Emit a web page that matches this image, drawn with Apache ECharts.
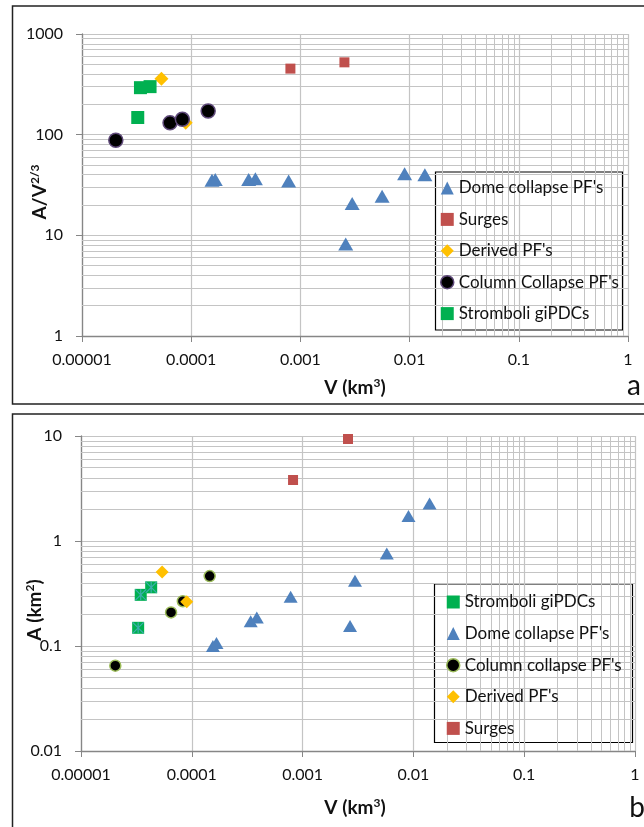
<!DOCTYPE html>
<html>
<head>
<meta charset="utf-8">
<script src="https://cdn.jsdelivr.net/npm/echarts@6/dist/echarts.min.js"></script>
<style>
  html, body { margin: 0; padding: 0; background: #fff; }
  #chart { width: 644px; height: 827px; }
</style>
</head>
<body>
<div id="chart"></div>
<script>
// panel a: A/V^(2/3) against V (km3)
var domeA = [[1.55e-4, 35.3], [1.66e-4, 35.9], [3.36e-4, 35.9], [3.87e-4, 36.4], [7.8e-4, 34.7],
  [2.6e-3, 8.2], [2.98e-3, 20.7], [5.6e-3, 24.5], [9.0e-3, 41], [1.38e-2, 40]];
var surgesA = [[8.1e-4, 453], [2.53e-3, 523]];
var derivedA = [[5.34e-5, 360], [8.9e-5, 131]];
var columnA = [[2.04e-5, 88], [6.4e-5, 131], [8.3e-5, 142], [1.43e-4, 172]];
var stromboliA = [[3.24e-5, 148], [3.43e-5, 293], [4.2e-5, 300]];

// panel b: A (km2) against V (km3)
var stromboliB = [[3.28e-5, 0.149], [3.46e-5, 0.307], [4.3e-5, 0.362]];
var domeB = [[1.55e-4, 0.100], [1.67e-4, 0.107], [3.4e-4, 0.172], [3.86e-4, 0.187], [7.8e-4, 0.294],
  [2.68e-3, 0.155], [2.97e-3, 0.418], [5.75e-3, 0.762], [9.03e-3, 1.73], [1.40e-2, 2.28]];
var columnB = [[2.04e-5, 0.065], [6.5e-5, 0.209], [8.3e-5, 0.267], [1.45e-4, 0.463]];
var derivedB = [[5.4e-5, 0.508], [9.0e-5, 0.264]];
var surgesB = [[8.2e-4, 3.81], [2.57e-3, 9.36]];

// axis ranges (powers of ten)
var xRange = [1e-5, 1];
var yRangeA = [1, 1000];
var yRangeB = [0.01, 10];

var legendA = ["Dome collapse PF's", 'Surges', "Derived PF's", "Column Collapse PF's", 'Stromboli giPDCs'];
var legendB = ['Stromboli giPDCs', "Dome collapse PF's", "Column collapse PF's", "Derived PF's", 'Surges'];

var FONT = 'Lato, "Open Sans", sans-serif';
var GRID = '#c4c4c4';

var chart = echarts.init(document.getElementById('chart'));

function logLabel(v) {
  var d = Math.round(Math.log10(v));
  return d < 0 ? Math.pow(10, d).toFixed(-d) : String(Math.round(Math.pow(10, d)));
}

// 2..9 x 10^n values for the minor grid
function minorVals(range) {
  var out = [];
  var lo = Math.round(Math.log10(range[0])), hi = Math.round(Math.log10(range[1]));
  for (var e = lo; e < hi; e++) {
    for (var k = 2; k < 10; k++) out.push(k * Math.pow(10, e));
  }
  return out;
}

function logAxis(range, gridIndex, vertical) {
  return {
    type: 'log', logBase: 10, gridIndex: gridIndex,
    min: range[0], max: range[1],
    axisLine: { show: true, lineStyle: { color: '#868686', width: 1.3 } },
    axisTick: { show: true, length: 6, lineStyle: { color: '#868686' } },
    axisLabel: {
      formatter: logLabel, color: '#111', fontFamily: FONT, fontSize: 16,
      margin: vertical ? 19 : 16
    },
    splitLine: { show: true, lineStyle: { color: GRID, width: 1.2 } }
  };
}

function minorGrid(xi, yRange) {
  var marks = minorVals(xRange).map(function (v) { return { xAxis: v }; })
    .concat(minorVals(yRange).map(function (v) { return { yAxis: v }; }));
  return {
    type: 'scatter', name: 'minor' + xi, xAxisIndex: xi, yAxisIndex: xi, data: [], z: 1, silent: true,
    markLine: {
      z: 1, silent: true, symbol: ['none', 'none'], label: { show: false },
      lineStyle: { color: GRID, width: 1, type: 'solid' },
      emphasis: { disabled: true }, animation: false, data: marks
    }
  };
}

function pts(name, data, xi, symbol, size, color, border, bw) {
  return {
    type: 'scatter', name: name, xAxisIndex: xi, yAxisIndex: xi, data: data,
    symbol: symbol, symbolSize: size, z: 2,
    itemStyle: { color: color, borderColor: border || color, borderWidth: bw || 0, opacity: 1 },
    emphasis: { disabled: true }
  };
}

var STAR = 'path://M0,0L10,10M10,0L0,10M5,0L5,10';

function titleText(x, y, text, rot) {
  return {
    type: 'text', x: x, y: y, rotation: rot || 0,
    style: {
      text: text, align: 'center', verticalAlign: 'middle',
      rich: {
        b: { fontFamily: FONT, fontSize: 19, fontWeight: 'bold', fill: '#111', lineHeight: 22 },
        s: { fontFamily: FONT, fontSize: 12, fontWeight: 'bold', fill: '#111', verticalAlign: 'top', lineHeight: 22 }
      }
    }
  };
}

function legendOf(names, left, top, gap, icons) {
  return {
    orient: 'vertical', left: left, top: top, padding: 0, z: 6,
    itemWidth: 13, itemHeight: 13, itemGap: gap, selectedMode: false,
    textStyle: { fontFamily: FONT, fontSize: 17, color: '#111', lineHeight: 18 },
    data: names.map(function (n, i) { return { name: n, icon: icons[i].icon, itemStyle: icons[i].style }; })
  };
}

chart.setOption({
  animation: false,
  backgroundColor: '#fff',
  grid: [
    { left: 82, top: 34, width: 546, height: 302 },
    { left: 81, top: 436, width: 554, height: 315 }
  ],
  xAxis: [logAxis(xRange, 0, false), logAxis(xRange, 1, false)],
  yAxis: [logAxis(yRangeA, 0, true), logAxis(yRangeB, 1, true)],
  legend: [
    legendOf(legendA, 440, 179, 13.4, [
      { icon: 'triangle', style: { color: '#4f81bd' } },
      { icon: 'rect', style: { color: '#c0504d' } },
      { icon: 'diamond', style: { color: '#ffc000' } },
      { icon: 'circle', style: { color: '#000', borderColor: '#5f497a', borderWidth: 1.5 } },
      { icon: 'rect', style: { color: '#00b050' } }
    ]),
    legendOf(legendB, 446, 593, 13.6, [
      { icon: 'rect', style: { color: '#00b050' } },
      { icon: 'triangle', style: { color: '#4f81bd' } },
      { icon: 'circle', style: { color: '#000', borderColor: '#9bbb59', borderWidth: 1.5 } },
      { icon: 'diamond', style: { color: '#ffc000' } },
      { icon: 'rect', style: { color: '#c0504d' } }
    ])
  ],
  graphic: {
    z: 5,
    elements: [
      { type: 'rect', shape: { x: 12.5, y: 6, width: 700, height: 398 }, style: { fill: 'none', stroke: '#222', lineWidth: 1.5 } },
      { type: 'rect', shape: { x: 12.5, y: 414, width: 700, height: 500 }, style: { fill: 'none', stroke: '#222', lineWidth: 1.5 } },
      { type: 'rect', shape: { x: 435.5, y: 172, width: 187, height: 158 }, style: { fill: '#fff', stroke: '#000', lineWidth: 1.2 } },
      { type: 'rect', shape: { x: 434.5, y: 584, width: 198, height: 158.5 }, style: { fill: '#fff', stroke: '#000', lineWidth: 1.2 } },
      titleText(355, 388, '{b|V (km}{s|3}{b|)}'),
      titleText(40, 192, '{b|A/V}{s|2/3}', Math.PI / 2),
      titleText(355, 808, '{b|V (km}{s|3}{b|)}'),
      titleText(35, 610, '{b|A (km}{s|2}{b|)}', Math.PI / 2),
      { type: 'text', x: 634, y: 386, style: { text: 'a', fontFamily: FONT, fontSize: 28, fill: '#111', align: 'center', verticalAlign: 'middle' } },
      { type: 'text', x: 637, y: 808, style: { text: 'b', fontFamily: FONT, fontSize: 28, fill: '#111', align: 'center', verticalAlign: 'middle' } }
    ]
  },
  series: [
    minorGrid(0, yRangeA),
    minorGrid(1, yRangeB),
    // panel a, in Excel's drawing order
    pts("Dome collapse PF's", domeA, 0, 'triangle', [15, 13], '#4f81bd'),
    pts('Surges', surgesA, 0, 'rect', 10, '#c0504d'),
    pts("Derived PF's", derivedA, 0, 'diamond', 14, '#ffc000'),
    pts("Column Collapse PF's", columnA, 0, 'circle', 14, '#000', '#5f497a', 1.5),
    pts('Stromboli giPDCs', stromboliA, 0, 'rect', 13, '#00b050'),
    // panel b
    pts('Stromboli giPDCs', stromboliB, 1, 'rect', 12, '#00b050'),
    {
      type: 'scatter', name: 'stromboli-star', xAxisIndex: 1, yAxisIndex: 1, data: stromboliB,
      symbol: STAR, symbolSize: 11, z: 2,
      itemStyle: { color: 'none', borderColor: '#4bacc6', borderWidth: 1.2 }, emphasis: { disabled: true }
    },
    pts("Dome collapse PF's", domeB, 1, 'triangle', [14, 12], '#4f81bd'),
    pts("Column collapse PF's", columnB, 1, 'circle', 11, '#000', '#9bbb59', 1.5),
    pts("Derived PF's", derivedB, 1, 'diamond', 13, '#ffc000'),
    pts('Surges', surgesB, 1, 'rect', 10, '#c0504d')
  ]
});
</script>
</body>
</html>
